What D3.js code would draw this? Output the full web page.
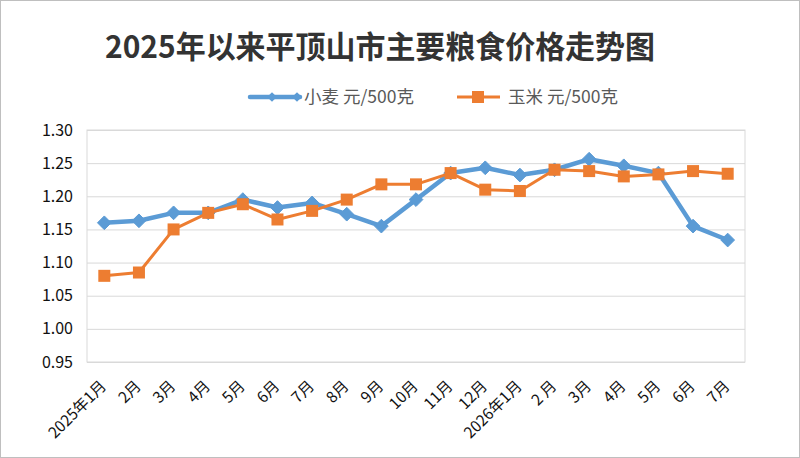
<!DOCTYPE html>
<html>
<head>
  <meta charset="utf-8">
  <title>平顶山市主要粮食价格走势</title>
  <script src="https://d3js.org/d3.v7.min.js"></script>
  <style>
  body {
    margin: 0;
    background: white;
  }
  text {
    font-family: "Noto Sans CJK SC", "Noto Sans", sans-serif;
  }
  .grid line {
    stroke: #d9d9d9;
    stroke-width: 1px;
  }
  .axisLabel {
    fill: #111;
  }
  .legendText {
    font-size: 17.5px;
    fill: #595959;
  }
  </style>
</head>
<body>
<div id='container'></div>

<script>

  var months = ['2025年1月', '2月', '3月', '4月', '5月', '6月', '7月', '8月', '9月', '10月',
    '11月', '12月', '2026年1月', '2 月', '3月', '4月', '5月', '6月', '7月']

  var wheat = [1.160, 1.163, 1.175, 1.175, 1.195, 1.183, 1.190, 1.173, 1.155, 1.195,
    1.235, 1.243, 1.232, 1.240, 1.256, 1.246, 1.235, 1.155, 1.134]

  var corn = [1.080, 1.085, 1.150, 1.175, 1.188, 1.165, 1.178, 1.195, 1.218, 1.218,
    1.235, 1.210, 1.208, 1.240, 1.238, 1.230, 1.233, 1.238, 1.234]

  var yTicks = [0.95, 1.00, 1.05, 1.10, 1.15, 1.20, 1.25, 1.30]

  var seriesNames = ['小麦 元/500克', '玉米 元/500克']

  const width = 800
  const height = 458
  const blue = '#5b9bd5'
  const orange = '#ed7d31'

  var svg = d3.select('#container')
    .append('svg')
    .attr('width', width)
    .attr('height', height)

  // outer frame
  svg.append('rect')
    .attr('x', 0.5).attr('y', 0.5)
    .attr('width', width - 1).attr('height', height - 1)
    .style('fill', 'white')
    .style('stroke', '#bfbfbf')

  var plot = {left: 87, right: 745, top: 130, bottom: 362}

  var xScale = d3.scaleBand()
    .domain(months.map((m, i) => i))
    .range([plot.left, plot.right])

  var yScale = d3.scaleLinear()
    .domain([0.95, 1.30])
    .range([plot.bottom, plot.top])

  // grid lines
  var yGrid = d3.axisLeft(yScale)
    .tickValues(yTicks)
    .tickSize(-(plot.right - plot.left))
    .tickFormat('')

  svg.append('g')
    .classed('grid', true)
    .attr('transform', 'translate(' + plot.left + ',0)')
    .call(yGrid)
    .call(g => g.select('.domain').remove())

  // plot border
  svg.append('rect')
    .attr('x', plot.left).attr('y', plot.top)
    .attr('width', plot.right - plot.left).attr('height', plot.bottom - plot.top)
    .style('fill', 'none')
    .style('stroke', '#d9d9d9')

  // y axis labels
  var yAxis = d3.axisLeft(yScale)
    .tickValues(yTicks)
    .tickSize(0)
    .tickPadding(14)
    .tickFormat(d3.format('.2f'))

  svg.append('g')
    .attr('transform', 'translate(' + plot.left + ',0)')
    .call(yAxis)
    .call(g => g.select('.domain').remove())
    .call(g => g.selectAll('text')
      .attr('class', 'axisLabel')
      .style('font-size', '16px')
      .attr('font-family', null))

  // x axis labels (rotated)
  var xAxis = d3.axisBottom(xScale)
    .tickSize(0)
    .tickFormat(i => months[i])

  svg.append('g')
    .attr('transform', 'translate(0,' + plot.bottom + ')')
    .call(xAxis)
    .call(g => g.select('.domain').remove())
    .call(g => g.selectAll('text')
      .attr('class', 'axisLabel')
      .style('font-size', '15.5px')
      .attr('font-family', null)
      .attr('y', 0)
      .attr('dy', 0)
      .attr('text-anchor', 'end')
      .attr('transform', 'translate(3,25) rotate(-45)'))

  var cx = (d, i) => xScale(i) + xScale.bandwidth() / 2

  var line = d3.line()
    .x(cx)
    .y(d => yScale(d))

  // wheat series
  svg.append('path')
    .datum(wheat)
    .attr('d', line)
    .style('fill', 'none')
    .style('stroke', blue)
    .style('stroke-width', 4.5)
    .style('stroke-linejoin', 'round')

  svg.selectAll('.wheatPt')
    .data(wheat)
    .enter()
    .append('path')
    .classed('wheatPt', true)
    .attr('d', d3.symbol().type(d3.symbolDiamond2).size(120))
    .attr('transform', (d, i) => 'translate(' + cx(d, i) + ',' + yScale(d) + ')')
    .style('fill', blue)
    .style('stroke', blue)
    .style('stroke-width', 1)

  // corn series
  svg.append('path')
    .datum(corn)
    .attr('d', line)
    .style('fill', 'none')
    .style('stroke', orange)
    .style('stroke-width', 3)
    .style('stroke-linejoin', 'round')

  svg.selectAll('.cornPt')
    .data(corn)
    .enter()
    .append('rect')
    .classed('cornPt', true)
    .attr('x', (d, i) => cx(d, i) - 6)
    .attr('y', d => yScale(d) - 6)
    .attr('width', 12)
    .attr('height', 12)
    .style('fill', orange)

  // title
  svg.append('text')
    .attr('x', 380)
    .attr('y', 58)
    .attr('text-anchor', 'middle')
    .style('font-size', '31px')
    .style('font-weight', 'bold')
    .style('fill', '#333')
    .attr('textLength', 550)
    .attr('lengthAdjust', 'spacingAndGlyphs')
    .text('2025年以来平顶山市主要粮食价格走势图')

  // legend
  var legend = svg.append('g')
  var ly = 97

  legend.append('line')
    .attr('x1', 250).attr('x2', 300).attr('y1', ly).attr('y2', ly)
    .style('stroke', blue).style('stroke-width', 4.5).style('stroke-linecap', 'round')
  ;[272, 297].forEach(x => {
    legend.append('path')
      .attr('d', d3.symbol().type(d3.symbolDiamond2).size(60))
      .attr('transform', 'translate(' + x + ',' + ly + ')')
      .style('fill', blue)
  })
  legend.append('text')
    .classed('legendText', true)
    .attr('x', 304).attr('y', ly + 6)
    .text(seriesNames[0])

  legend.append('line')
    .attr('x1', 457).attr('x2', 500).attr('y1', ly).attr('y2', ly)
    .style('stroke', orange).style('stroke-width', 3)
  legend.append('rect')
    .attr('x', 472).attr('y', ly - 6).attr('width', 12).attr('height', 12)
    .style('fill', orange)
  legend.append('text')
    .classed('legendText', true)
    .attr('x', 508).attr('y', ly + 6)
    .text(seriesNames[1])

</script>
</body>
</html>
